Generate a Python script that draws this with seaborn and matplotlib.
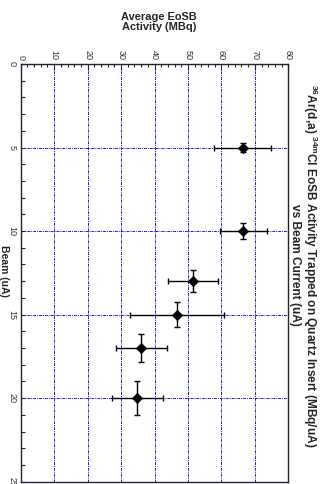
import matplotlib
matplotlib.use("Agg")
import matplotlib.pyplot as plt
import seaborn as sns
import pandas as pd
from matplotlib.ticker import MultipleLocator

beam_current = [5, 10, 13, 15, 17, 20]
activity = [66.4, 66.6, 51.5, 46.7, 36.1, 34.9]
activity_err = [8.5, 7.1, 7.4, 14.0, 7.5, 7.6]
beam_err = [0.25, 0.5, 0.65, 0.75, 0.85, 1.0]
activity_ticks = [0, 10, 20, 30, 40, 50, 60, 70, 80]
beam_ticks = [0, 5, 10, 15, 20, 25]

df = pd.DataFrame({"beam": beam_current, "activity": activity})

sns.set_style("white")
plt.rcParams["font.family"] = ["Liberation Sans", "DejaVu Sans"]
plt.rcParams["mathtext.fontset"] = "custom"
plt.rcParams["mathtext.rm"] = "Liberation Sans:bold"
plt.rcParams["mathtext.bf"] = "Liberation Sans:bold"
plt.rcParams["mathtext.it"] = "Liberation Sans:bold"

fig = plt.figure(figsize=(3.25, 4.84), dpi=100)
ax = fig.add_axes([0.0637, 0.0048, 0.8234, 0.863])

ax.errorbar(df["activity"], df["beam"], xerr=activity_err, yerr=beam_err,
            fmt="none", ecolor="black", elinewidth=1.0, capsize=2.5, capthick=1.0, zorder=3)
sns.scatterplot(data=df, x="activity", y="beam", marker="D", color="black",
                s=28, edgecolor="black", linewidth=0.5, ax=ax, zorder=4)

ax.set_xlim(0, 80)
ax.set_ylim(25, 0)
ax.set_xticks(activity_ticks)
ax.set_yticks(beam_ticks)
ax.xaxis.set_minor_locator(MultipleLocator(2))
ax.yaxis.set_minor_locator(MultipleLocator(1))
ax.xaxis.tick_top()
ax.set_xticklabels([str(t) for t in activity_ticks], rotation=-90, fontsize=6.5, color="#333333")
ax.set_yticklabels([str(t) for t in beam_ticks], rotation=-90, fontsize=6.5, color="#333333", va="center")
ax.tick_params(axis="x", which="major", direction="in", length=4, width=0.8, top=True, bottom=False, pad=3)
ax.tick_params(axis="x", which="minor", direction="in", length=2.5, width=0.8, top=True, bottom=False)
ax.tick_params(axis="y", which="major", direction="in", length=3, width=0.8, left=True, right=False, pad=3)
ax.tick_params(axis="y", which="minor", direction="in", length=3, width=0.8, left=True, right=False)

ax.grid(True, which="major", color="#1a1aee", linestyle=(0, (3, 1, 1, 1)), linewidth=0.7)
ax.set_axisbelow(True)
for s in ax.spines.values():
    s.set_color("#222233")
    s.set_linewidth(1.0)
ax.set_xlabel("")
ax.set_ylabel("")

fig.text(0.49, 0.955, "Average EoSB\nActivity (MBq)", ha="center", va="center",
         fontsize=7.9, fontweight="bold", linespacing=0.95)
fig.text(0.012, 0.44, "Beam (uA)", ha="center", va="center", rotation=-90,
         fontsize=7.5, fontweight="bold")
fig.text(0.935, 0.452,
         "$^{36}$Ar(d,a) $^{34m}$Cl EoSB Activity Trapped on Quartz Insert (MBq/uA)\nvs Beam Current (uA)",
         ha="center", va="center", rotation=-90, fontsize=8.6, fontweight="bold",
         linespacing=0.95, multialignment="center")

fig.savefig("out.png", dpi=100)
